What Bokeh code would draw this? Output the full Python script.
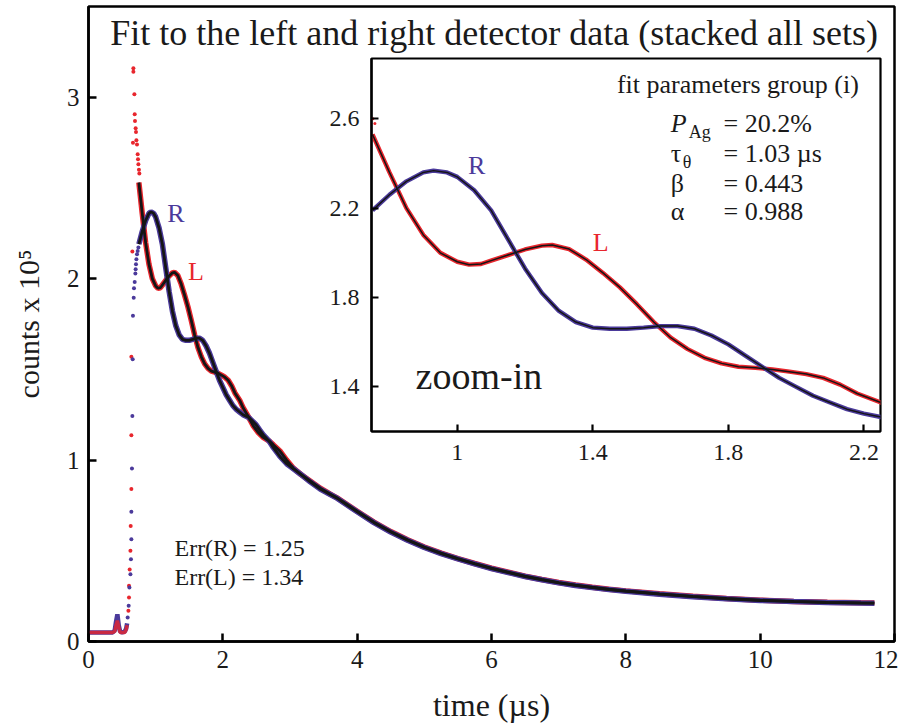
from bokeh.plotting import figure
from bokeh.layouts import column
from bokeh.models import Range1d, FixedTicker, Label
from bokeh.embed import file_html
from bokeh.resources import INLINE

FONT = "Liberation Serif"
RED = "#e8262d"
BLUE = "#4b3a9b"
BLACK = "#151515"
TXT = "#1a1a1a"

# ---------------- data ----------------
# pre-trigger baseline
base_t = [0.0, 0.10, 0.20, 0.30, 0.36, 0.39, 0.41, 0.43, 0.45, 0.47, 0.50, 0.54, 0.56, 0.575]
base_R = [0.05, 0.05, 0.05, 0.05, 0.05, 0.06, 0.11, 0.15, 0.09, 0.055, 0.05, 0.055, 0.07, 0.10]
base_L = [0.05, 0.05, 0.05, 0.05, 0.05, 0.055, 0.09, 0.115, 0.08, 0.05, 0.05, 0.05, 0.065, 0.09]

# rising edge (individual points)
riseR_t = [0.583, 0.598, 0.609, 0.624, 0.632, 0.638, 0.638, 0.647, 0.653, 0.658, 0.662, 0.673,
           0.677, 0.688, 0.698, 0.702, 0.707, 0.713, 0.722, 0.732, 0.743]
riseR_y = [0.132, 0.197, 0.298, 0.371, 0.454, 0.564, 0.715, 0.953, 1.243, 1.556, 1.795, 1.895,
           1.947, 1.982, 2.028, 2.052, 2.079, 2.107, 2.134, 2.153, 2.171]
riseL_t = [0.594, 0.603, 0.603, 0.613, 0.624, 0.628, 0.638, 0.638, 0.638, 0.653, 0.668, 0.668,
           0.683, 0.688, 0.692, 0.702, 0.707, 0.662, 0.713, 0.722, 0.732, 0.737, 0.743, 0.751, 0.757]
riseL_y = [0.169, 0.242, 0.307, 0.397, 0.500, 0.637, 0.840, 1.137, 1.570, 2.149, 3.160, 3.140,
           3.016, 2.906, 2.869, 2.829, 2.808, 2.749, 2.763, 2.740, 2.685, 2.658, 2.630, 2.600, 2.579]

# right detector (R) decay curve
R_t = [0.75, 0.80, 0.85, 0.90, 0.93, 0.97, 1.00, 1.05, 1.10, 1.15, 1.20, 1.25, 1.30, 1.35, 1.40,
       1.45, 1.50, 1.55, 1.60, 1.65, 1.70, 1.75, 1.80, 1.85, 1.90, 1.95, 2.00, 2.05, 2.10, 2.15,
       2.20, 2.25, 2.30, 2.388, 2.488, 2.55, 2.60, 2.686, 2.75, 2.85, 2.95, 3.05, 3.158, 3.30,
       3.45, 3.60, 3.70, 3.85, 4.00, 4.25, 4.50, 4.75, 5.00, 5.25, 5.50, 5.75, 6.00, 6.25, 6.50,
       6.75, 7.00, 7.25, 7.50, 7.75, 8.00, 8.50, 9.00, 9.50, 10.00, 10.50, 11.00, 11.50, 11.70]
R_y = [2.19, 2.26, 2.32, 2.36, 2.368, 2.36, 2.34, 2.28, 2.19, 2.06, 1.93, 1.82, 1.74, 1.69, 1.665,
       1.66, 1.66, 1.665, 1.672, 1.672, 1.66, 1.63, 1.59, 1.54, 1.49, 1.44, 1.40, 1.36, 1.33, 1.30,
       1.28, 1.265, 1.25, 1.234, 1.198, 1.165, 1.14, 1.106, 1.07, 1.02, 0.98, 0.952, 0.922, 0.88,
       0.84, 0.81, 0.79, 0.752, 0.715, 0.655, 0.603, 0.558, 0.518, 0.484, 0.455, 0.428, 0.402,
       0.380, 0.358, 0.340, 0.323, 0.309, 0.297, 0.286, 0.277, 0.261, 0.247, 0.235, 0.226, 0.220,
       0.215, 0.212, 0.211]

# left detector (L) decay curve
L_t = [0.75, 0.80, 0.85, 0.90, 0.95, 1.00, 1.035, 1.07, 1.10, 1.15, 1.20, 1.25, 1.28, 1.33, 1.38,
       1.43, 1.48, 1.53, 1.58, 1.63, 1.68, 1.73, 1.78, 1.83, 1.88, 1.93, 1.98, 2.03, 2.08, 2.13,
       2.18, 2.25, 2.30, 2.388, 2.45, 2.52, 2.60, 2.686, 2.75, 2.85, 2.95, 3.05, 3.158, 3.30,
       3.45, 3.60, 3.70, 3.85, 4.00, 4.25, 4.50, 4.75, 5.00, 5.25, 5.50, 5.75, 6.00, 6.25, 6.50,
       6.75, 7.00, 7.25, 7.50, 7.75, 8.00, 8.50, 9.00, 9.50, 10.00, 10.50, 11.00, 11.50, 11.70]
L_y = [2.53, 2.36, 2.20, 2.08, 2.00, 1.96, 1.947, 1.95, 1.965, 1.99, 2.015, 2.032, 2.035, 2.017,
       1.97, 1.91, 1.845, 1.77, 1.69, 1.62, 1.569, 1.53, 1.505, 1.49, 1.485, 1.478, 1.468, 1.457,
       1.44, 1.41, 1.37, 1.33, 1.29, 1.234, 1.19, 1.155, 1.125, 1.106, 1.085, 1.05, 1.00, 0.955,
       0.922, 0.885, 0.845, 0.812, 0.792, 0.755, 0.718, 0.658, 0.606, 0.561, 0.521, 0.487, 0.457,
       0.430, 0.404, 0.382, 0.360, 0.342, 0.325, 0.311, 0.299, 0.288, 0.279, 0.263, 0.249, 0.237,
       0.228, 0.221, 0.216, 0.213, 0.212]

main_xticks = [0, 2, 4, 6, 8, 10, 12]
main_yticks = [0, 1, 2, 3]
inset_xticks = [1.0, 1.4, 1.8, 2.2]
inset_yticks = [1.4, 1.8, 2.2, 2.6]

title_text = "Fit to the left and right detector data (stacked all sets)"
x_label = "time (\u00b5s)"
y_label = "counts x 10\u2075"
err_texts = ["Err(R) = 1.25", "Err(L) = 1.34"]
param_names = ["P", "\u03c4", "\u03b2", "\u03b1"]
param_subs = ["Ag", "\u03b8", "", ""]
param_vals = ["= 20.2%", "= 1.03 \u00b5s", "= 0.443", "= 0.988"]


def style_axes(fig, size, lw):
    for ax in fig.axis:
        ax.axis_line_width = lw
        ax.axis_line_color = "black"
        ax.major_tick_line_width = lw
        ax.major_tick_line_color = "black"
        ax.major_tick_in = 8
        ax.major_tick_out = 0
        ax.minor_tick_line_color = None
        ax.major_label_text_font = FONT
        ax.major_label_text_font_size = size
        ax.major_label_text_color = TXT
        ax.axis_label_text_font = FONT
        ax.axis_label_text_font_style = "normal"
        ax.axis_label_text_color = TXT
    fig.xgrid.grid_line_color = None
    fig.ygrid.grid_line_color = None
    fig.outline_line_color = "black"
    fig.outline_line_width = lw
    fig.outline_line_alpha = 1.0


def draw_data(fig, band, fitw, dot):
    fig.line(base_t, base_R, line_color=BLUE, line_width=band - 1)
    fig.line(base_t, base_L, line_color=RED, line_width=band - 2, line_alpha=0.8)
    fig.scatter(riseL_t, riseL_y, size=dot, color=RED, line_width=0)
    fig.scatter(riseR_t, riseR_y, size=dot, color=BLUE, line_width=0)
    fig.line(L_t, L_y, line_color=RED, line_width=band)
    fig.line(R_t, R_y, line_color=BLUE, line_width=band)
    fig.line(L_t, L_y, line_color=BLACK, line_width=fitw)
    fig.line(R_t, R_y, line_color=BLACK, line_width=fitw)


# ---------------- main figure ----------------
p = figure(frame_width=806, frame_height=635, x_range=Range1d(0, 12), y_range=Range1d(0, 3.5),
           output_backend="svg", toolbar_location=None,
           min_border_left=88, min_border_right=4, min_border_top=6, min_border_bottom=80,
           x_axis_label=x_label, y_axis_label=y_label)
p.xaxis.ticker = FixedTicker(ticks=main_xticks)
p.yaxis.ticker = FixedTicker(ticks=main_yticks)
style_axes(p, "25px", 2.5)
p.xaxis.major_label_standoff = 9
p.yaxis.major_label_standoff = 9
p.xaxis.axis_label_text_font_size = "32px"
p.yaxis.axis_label_text_font_size = "30px"
p.xaxis.axis_label_standoff = 16
p.yaxis.axis_label_standoff = 19

draw_data(p, 5.5, 2.8, 4)

p.add_layout(Label(x=6.04, y=3.354, text=title_text, text_align="center", text_baseline="middle",
                   text_font=FONT, text_font_size="36px", text_color=TXT))
p.add_layout(Label(x=1.30, y=2.36, text="R", text_align="center", text_baseline="middle",
                   text_font=FONT, text_font_size="26px", text_color=BLUE))
p.add_layout(Label(x=1.60, y=2.04, text="L", text_align="center", text_baseline="middle",
                   text_font=FONT, text_font_size="26px", text_color=RED))
for t, yv in zip(err_texts, [0.516, 0.356]):
    p.add_layout(Label(x=1.28, y=yv, text=t, text_align="left", text_baseline="middle",
                       text_font=FONT, text_font_size="24px", text_color=TXT))

# ---------------- inset figure ----------------
q = figure(frame_width=509, frame_height=373, x_range=Range1d(0.747, 2.249), y_range=Range1d(1.2, 2.87),
           output_backend="svg", toolbar_location=None,
           min_border_left=88, min_border_right=4, min_border_top=6, min_border_bottom=45)
q.xaxis.ticker = FixedTicker(ticks=inset_xticks)
q.yaxis.ticker = FixedTicker(ticks=inset_yticks)
q.xaxis.major_label_overrides = {1.0: "1", 1.4: "1.4", 1.8: "1.8", 2.2: "2.2"}
q.yaxis.major_label_overrides = {1.4: "1.4", 1.8: "1.8", 2.2: "2.2", 2.6: "2.6"}
style_axes(q, "24px", 2.2)
for ax in q.axis:
    ax.major_tick_in = 7
q.xaxis.major_label_standoff = 13
q.yaxis.major_label_standoff = 12
q.background_fill_color = "white"
q.border_fill_alpha = 0.0

draw_data(q, 4.4, 1.5, 3)

q.add_layout(Label(x=1.057, y=2.389, text="R", text_align="center", text_baseline="middle",
                   text_font=FONT, text_font_size="26px", text_color=BLUE))
q.add_layout(Label(x=1.423, y=2.048, text="L", text_align="center", text_baseline="middle",
                   text_font=FONT, text_font_size="26px", text_color=RED))
q.add_layout(Label(x=0.877, y=1.448, text="zoom-in", text_align="left", text_baseline="middle",
                   text_font=FONT, text_font_size="38px", text_color=TXT))
q.add_layout(Label(x=2.185, y=2.752, text="fit parameters group (i)", text_align="right",
                   text_baseline="middle", text_font=FONT, text_font_size="26px", text_color=TXT))
row_y = [2.578, 2.443, 2.309, 2.183]
for name, sub, val, yv in zip(param_names, param_subs, param_vals, row_y):
    q.add_layout(Label(x=1.63, y=yv, text=name, text_align="left", text_baseline="middle",
                       text_font=FONT, text_font_size="26px", text_color=TXT,
                       text_font_style="italic" if name == "P" else "normal"))
    if sub:
        q.add_layout(Label(x=1.63, y=yv, x_offset=18 if name == "P" else 12, y_offset=-8,
                           text=sub, text_align="left", text_baseline="middle",
                           text_font=FONT, text_font_size="18px", text_color=TXT))
    q.add_layout(Label(x=1.786, y=yv, text=val, text_align="left", text_baseline="middle",
                       text_font=FONT, text_font_size="26px", text_color=TXT))

# main height = 6 + 635 + 80 = 721; inset frame top wanted at y = 59
q.margin = (59 - 6 - 721 - 5, 0, 0, 371 - 88)
p.margin = (0, 0, 0, 0)

layout = column(p, q, spacing=0)
open("out.html", "w").write(file_html(layout, INLINE))
